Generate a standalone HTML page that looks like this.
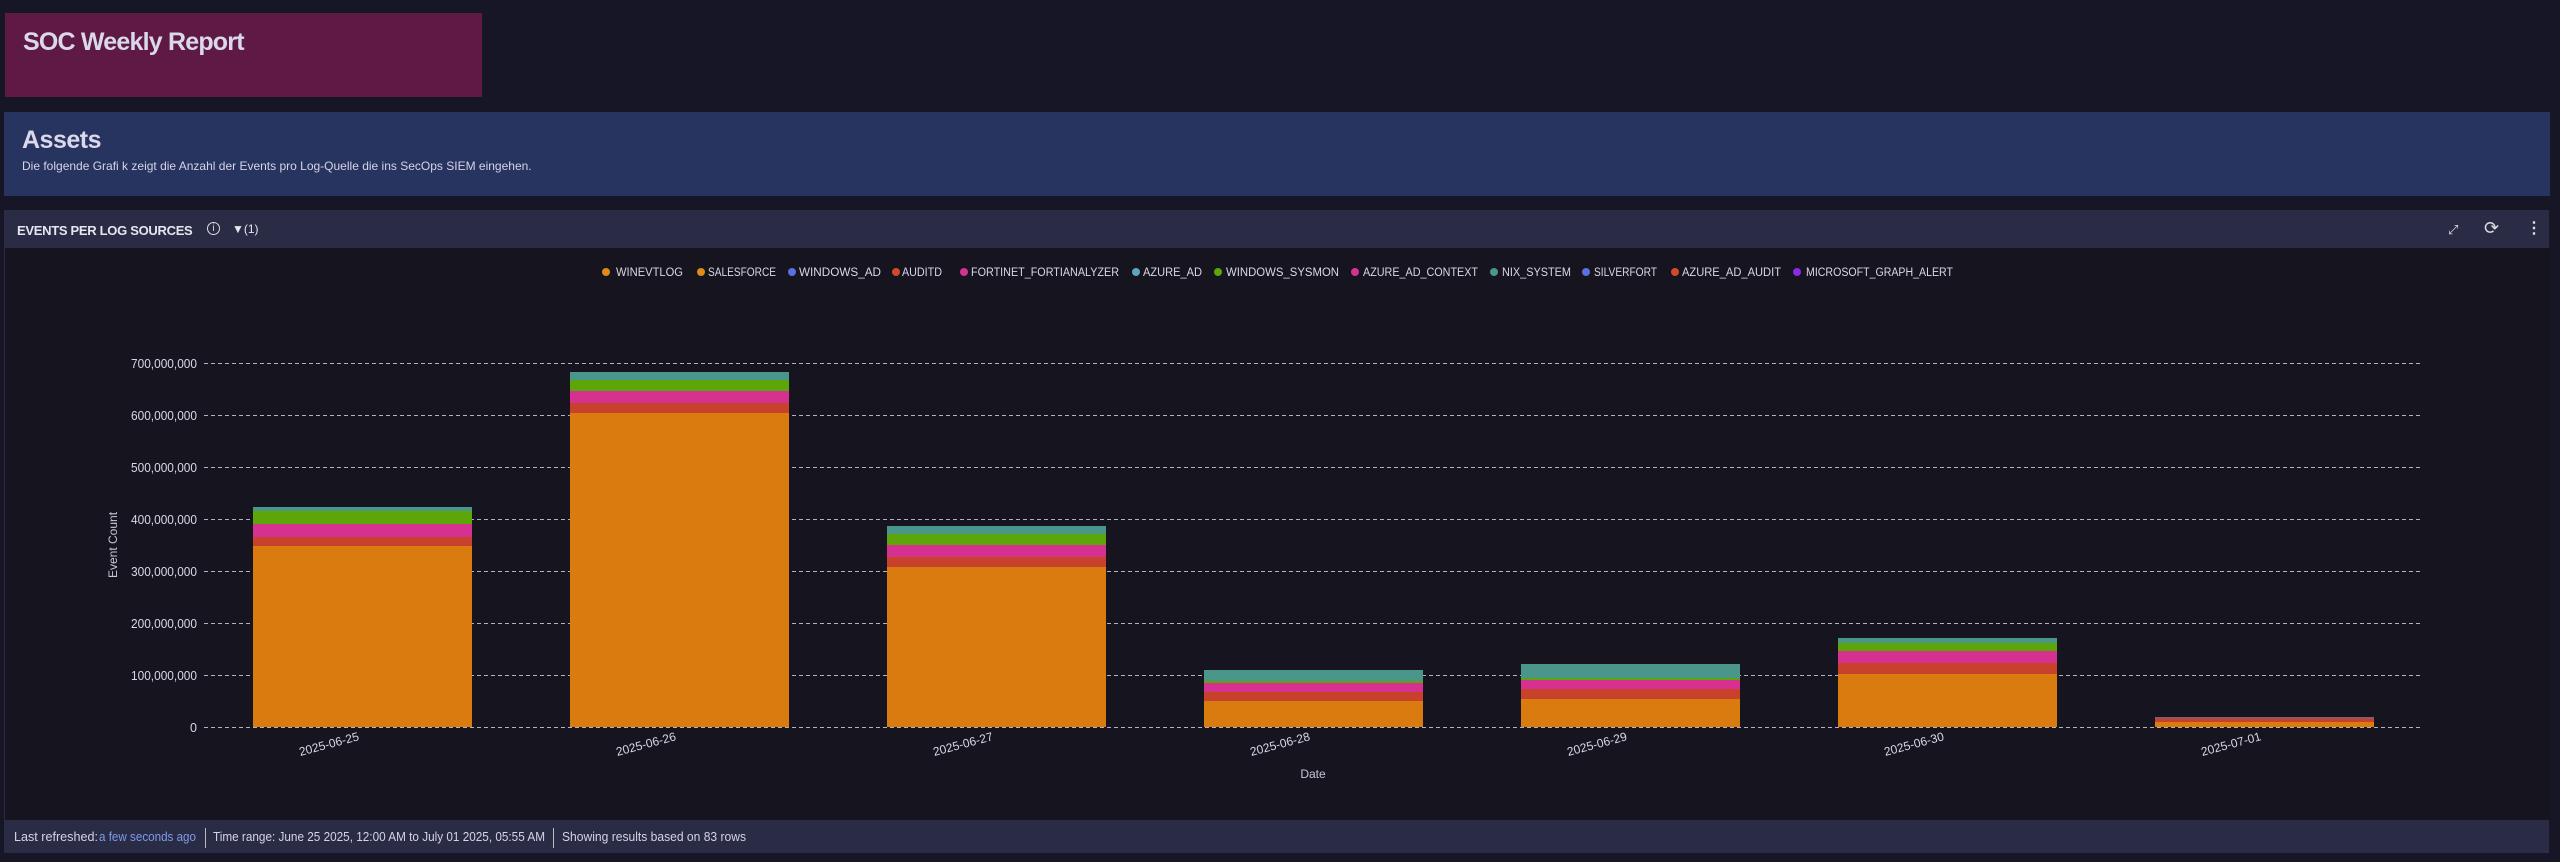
<!DOCTYPE html>
<html><head><meta charset="utf-8"><style>
html,body{margin:0;padding:0;width:2560px;height:862px;background:#171626;overflow:hidden;font-family:"Liberation Sans",sans-serif;color:#d8d6e6}
.abs{position:absolute}
</style></head><body>
<div class="abs" style="left:5px;top:13px;width:477px;height:84px;background:#5e1a44"></div>
<div class="abs" style="left:23px;top:28px;font-size:25px;font-weight:bold;color:#dcd8ec;letter-spacing:-0.8px">SOC Weekly Report</div>
<div class="abs" style="left:4px;top:112px;width:2546px;height:84px;background:#283460"></div>
<div class="abs" style="left:22px;top:126px;font-size:25px;font-weight:bold;color:#dcd8ec;letter-spacing:-0.5px">Assets</div>
<div class="abs" style="left:22px;top:159px;font-size:12px;color:#d4d4e6">Die folgende Grafi k zeigt die Anzahl der Events pro Log-Quelle die ins SecOps SIEM eingehen.</div>
<div class="abs" style="left:4px;top:210px;width:2545px;height:38px;background:#2a2c45"></div>
<div class="abs" style="left:4px;top:248px;width:2545px;height:572px;background:#16151f;border-left:1px solid #2a2c45"></div>
<div class="abs" style="left:17px;top:223px;font-size:13px;font-weight:bold;color:#e6e6f0;letter-spacing:-0.3px">EVENTS PER LOG SOURCES</div>
<div class="abs" style="left:207px;top:222px;width:11px;height:11px;border:1.5px solid #ddd;border-radius:50%;font-size:10px;line-height:11px;text-align:center;color:#ddd">i</div>
<div class="abs" style="left:232px;top:222px;font-size:12px;color:#e6e6f0">▼(1)</div>
<div class="abs" style="left:2448px;top:222px;font-size:13px;color:#ddd">⤢</div>
<div class="abs" style="left:2484px;top:218px;font-size:18px;color:#ddd">⟳</div>
<div class="abs" style="left:2526px;top:218px;font-size:16px;color:#ddd;font-weight:bold">⋮</div>
<div class="abs" style="left:4px;top:820px;width:2545px;height:33px;background:#2a2c45"></div>
<svg class="abs" style="left:0;top:0" width="2560" height="862" font-family="Liberation Sans, sans-serif">
<g font-size="12.5" fill="#d4d4e6">
<text x="14" y="841" textLength="84" lengthAdjust="spacingAndGlyphs">Last refreshed:</text>
<text x="99" y="841" textLength="97" lengthAdjust="spacingAndGlyphs" fill="#7e9ae8">a few seconds ago</text>
<line x1="205.5" x2="205.5" y1="828" y2="848" stroke="#bbb"/>
<text x="213" y="841" textLength="332" lengthAdjust="spacingAndGlyphs">Time range: June 25 2025, 12:00 AM to July 01 2025, 05:55 AM</text>
<line x1="553.5" x2="553.5" y1="828" y2="848" stroke="#bbb"/>
<text x="562" y="841" textLength="184" lengthAdjust="spacingAndGlyphs">Showing results based on 83 rows</text>
</g>
<g font-size="11.5" fill="#d8d8e6">
<circle cx="606" cy="272" r="4" fill="#e08a1a"/><text x="616" y="276" textLength="67" lengthAdjust="spacingAndGlyphs">WINEVTLOG</text>
<circle cx="701" cy="272" r="4" fill="#e08a1a"/><text x="708" y="276" textLength="68" lengthAdjust="spacingAndGlyphs">SALESFORCE</text>
<circle cx="792" cy="272" r="4" fill="#5b6fe0"/><text x="799" y="276" textLength="82" lengthAdjust="spacingAndGlyphs">WINDOWS_AD</text>
<circle cx="896" cy="272" r="4" fill="#d04a2a"/><text x="902" y="276" textLength="40" lengthAdjust="spacingAndGlyphs">AUDITD</text>
<circle cx="964" cy="272" r="4" fill="#d63191"/><text x="971" y="276" textLength="148" lengthAdjust="spacingAndGlyphs">FORTINET_FORTIANALYZER</text>
<circle cx="1136" cy="272" r="4" fill="#58a8b8"/><text x="1143" y="276" textLength="59" lengthAdjust="spacingAndGlyphs">AZURE_AD</text>
<circle cx="1218" cy="272" r="4" fill="#5da60a"/><text x="1226" y="276" textLength="113" lengthAdjust="spacingAndGlyphs">WINDOWS_SYSMON</text>
<circle cx="1355" cy="272" r="4" fill="#d63191"/><text x="1363" y="276" textLength="115" lengthAdjust="spacingAndGlyphs">AZURE_AD_CONTEXT</text>
<circle cx="1494" cy="272" r="4" fill="#4a968a"/><text x="1502" y="276" textLength="69" lengthAdjust="spacingAndGlyphs">NIX_SYSTEM</text>
<circle cx="1586" cy="272" r="4" fill="#5b6fe0"/><text x="1594" y="276" textLength="63" lengthAdjust="spacingAndGlyphs">SILVERFORT</text>
<circle cx="1675" cy="272" r="4" fill="#d04a2a"/><text x="1682" y="276" textLength="99" lengthAdjust="spacingAndGlyphs">AZURE_AD_AUDIT</text>
<circle cx="1797" cy="272" r="4" fill="#8a2be2"/><text x="1806" y="276" textLength="147" lengthAdjust="spacingAndGlyphs">MICROSOFT_GRAPH_ALERT</text>
</g>
<g stroke="#cfcfdc" stroke-width="1" stroke-dasharray="4,3" opacity="0.85">
<line x1="204" x2="2422" y1="363.5" y2="363.5"/><line x1="204" x2="2422" y1="415.5" y2="415.5"/>
<line x1="204" x2="2422" y1="467.5" y2="467.5"/><line x1="204" x2="2422" y1="519.5" y2="519.5"/>
<line x1="204" x2="2422" y1="571.5" y2="571.5"/><line x1="204" x2="2422" y1="623.5" y2="623.5"/>
<line x1="204" x2="2422" y1="675.5" y2="675.5"/><line x1="204" x2="2422" y1="727.5" y2="727.5"/>
</g>
<g font-size="12.5" fill="#d8d8e6" text-anchor="end">
<text x="197" y="368" textLength="66" lengthAdjust="spacingAndGlyphs">700,000,000</text><text x="197" y="420" textLength="66" lengthAdjust="spacingAndGlyphs">600,000,000</text>
<text x="197" y="472" textLength="66" lengthAdjust="spacingAndGlyphs">500,000,000</text><text x="197" y="524" textLength="66" lengthAdjust="spacingAndGlyphs">400,000,000</text>
<text x="197" y="576" textLength="66" lengthAdjust="spacingAndGlyphs">300,000,000</text><text x="197" y="628" textLength="66" lengthAdjust="spacingAndGlyphs">200,000,000</text>
<text x="197" y="680" textLength="66" lengthAdjust="spacingAndGlyphs">100,000,000</text><text x="197" y="732">0</text>
</g>
<text transform="translate(117,545) rotate(-90)" font-size="12" fill="#c8c8d6" text-anchor="middle">Event Count</text>
<text x="1313" y="778" font-size="12" fill="#c8c8d6" text-anchor="middle">Date</text>
<g>
<rect x="253" y="507" width="219" height="220" fill="#4a968a"/><rect x="253" y="511" width="219" height="216" fill="#5da60a"/><rect x="253" y="524" width="219" height="203" fill="#d63191"/><rect x="253" y="537" width="219" height="190" fill="#c8412b"/><rect x="253" y="546" width="219" height="181" fill="#d97b0e"/>
<rect x="570" y="372" width="219" height="355" fill="#4a968a"/><rect x="570" y="380" width="219" height="347" fill="#5da60a"/><rect x="570" y="391" width="219" height="336" fill="#d63191"/><rect x="570" y="403" width="219" height="324" fill="#c8412b"/><rect x="570" y="413" width="219" height="314" fill="#d97b0e"/>
<rect x="887" y="526" width="219" height="201" fill="#4a968a"/><rect x="887" y="534" width="219" height="193" fill="#5da60a"/><rect x="887" y="545" width="219" height="182" fill="#d63191"/><rect x="887" y="557" width="219" height="170" fill="#c8412b"/><rect x="887" y="567" width="219" height="160" fill="#d97b0e"/>
<rect x="1204" y="670" width="219" height="57" fill="#4a968a"/><rect x="1204" y="681" width="219" height="46" fill="#5da60a"/><rect x="1204" y="683" width="219" height="44" fill="#d63191"/><rect x="1204" y="692" width="219" height="35" fill="#c8412b"/><rect x="1204" y="701" width="219" height="26" fill="#d97b0e"/>
<rect x="1521" y="664" width="219" height="63" fill="#4a968a"/><rect x="1521" y="678" width="219" height="49" fill="#5da60a"/><rect x="1521" y="680" width="219" height="47" fill="#d63191"/><rect x="1521" y="689" width="219" height="38" fill="#c8412b"/><rect x="1521" y="699" width="219" height="28" fill="#d97b0e"/>
<rect x="1838" y="638" width="219" height="89" fill="#4a968a"/><rect x="1838" y="643" width="219" height="84" fill="#5da60a"/><rect x="1838" y="651" width="219" height="76" fill="#d63191"/><rect x="1838" y="663" width="219" height="64" fill="#c8412b"/><rect x="1838" y="674" width="219" height="53" fill="#d97b0e"/>
<rect x="2155" y="717" width="219" height="10" fill="#8a5a6a"/><rect x="2155" y="719" width="219" height="8" fill="#c8412b"/><rect x="2155" y="722" width="219" height="5" fill="#d97b0e"/>
</g>
<g font-size="12" fill="#d8d8e6" text-anchor="middle">
<text transform="translate(330,748) rotate(-15)">2025-06-25</text>
<text transform="translate(647,748) rotate(-15)">2025-06-26</text>
<text transform="translate(964,748) rotate(-15)">2025-06-27</text>
<text transform="translate(1281,748) rotate(-15)">2025-06-28</text>
<text transform="translate(1598,748) rotate(-15)">2025-06-29</text>
<text transform="translate(1915,748) rotate(-15)">2025-06-30</text>
<text transform="translate(2232,748) rotate(-15)">2025-07-01</text>
</g>
</svg>
</body></html>
